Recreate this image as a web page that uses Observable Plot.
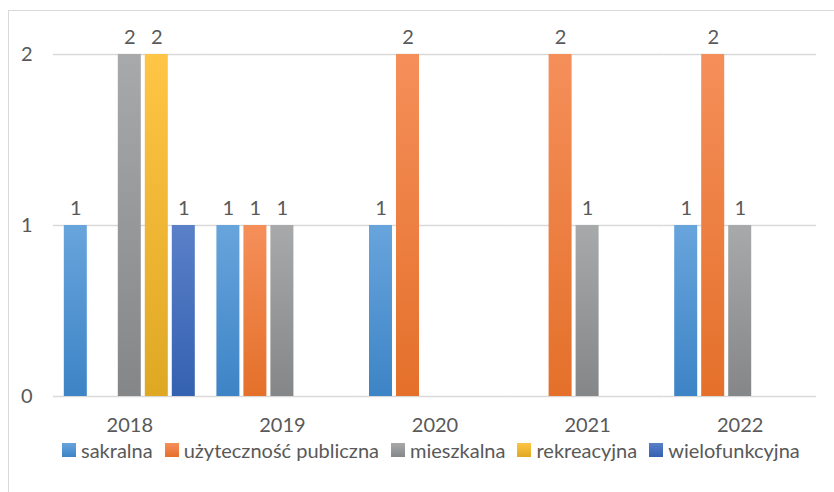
<!DOCTYPE html>
<html>
<head>
<meta charset="utf-8">
<script src="https://cdn.jsdelivr.net/npm/d3@7"></script>
<script src="https://cdn.jsdelivr.net/npm/@observablehq/plot@0.6"></script>
<style>
  html, body { margin: 0; padding: 0; background: #fff; }
  #wrap { position: relative; width: 834px; height: 492px; overflow: hidden; font-family: Lato, "Open Sans", sans-serif; }
  #frame { position: absolute; left: 8px; top: 10px; width: 840px; height: 500px; border: 1.5px solid #d9d9d9; box-sizing: border-box; pointer-events: none; }
  #chart { position: absolute; left: 0; top: 0; }
  #legend { position: absolute; left: 62px; top: 438px; display: flex; align-items: center; font-size: 20px; color: #595959; white-space: nowrap; }
  .item { display: flex; align-items: center; margin-right: 12px; }
  .sw { width: 14px; height: 14px; margin-right: 5px; }
</style>
</head>
<body>
<div id="wrap">
  <div id="frame"></div>
  <div id="chart"></div>
  <div id="legend"></div>
</div>
<script>
const years = ["2018", "2019", "2020", "2021", "2022"];
const series = ["sakralna", "użyteczność publiczna", "mieszkalna", "rekreacyjna", "wielofunkcyjna"];
const sakralna       = [1, 1, 1, 0, 1];
const uzytecznosc    = [0, 1, 2, 2, 2];
const mieszkalna     = [2, 1, 0, 1, 1];
const rekreacyjna    = [2, 0, 0, 0, 0];
const wielofunkcyjna = [1, 0, 0, 0, 0];
const yTicks = [0, 1, 2];
const gradTop    = ["#68a4dc", "#f58f5a", "#a8a9aa", "#ffc546", "#5a80c8"];
const gradBottom = ["#3d84c6", "#e4702a", "#858687", "#dfa823", "#3461b1"];

const valuesBySeries = [sakralna, uzytecznosc, mieszkalna, rekreacyjna, wielofunkcyjna];
const data = [];
series.forEach((s, i) => {
  years.forEach((y, j) => {
    const v = valuesBySeries[i][j];
    if (v > 0) data.push({year: y, series: s, idx: i, value: v});
  });
});

const FS = 20;
const svg = Plot.plot({
  width: 834,
  height: 436,
  marginLeft: 53,
  marginRight: 18,
  marginTop: 54,
  marginBottom: 40,
  style: {fontFamily: "Lato, 'Open Sans', sans-serif", fontSize: FS + "px", color: "#595959", background: "transparent"},
  fx: {domain: years, padding: 0, round: false, label: null},
  x: {domain: series, paddingInner: 0.148, paddingOuter: 0.4, round: false, axis: null},
  y: {domain: [0, 2], label: null},
  marks: [
    Plot.ruleY(yTicks, {stroke: "#d9d9d9", strokeWidth: 1.3}),
    ...series.map((s, i) => Plot.barY(data.filter(d => d.idx === i), {
      fx: "year", x: "series", y: "value", fill: `url(#grad${i})`,
      style: "filter:url(#shadow)"
    })),
    Plot.text(data, {fx: "year", x: "series", y: "value", text: d => String(d.value), dy: -17, fill: "#595959", fontSize: FS}),
    Plot.axisY(yTicks, {tickSize: 0, tickPadding: 21, tickFormat: d => String(d), label: null, fill: "#595959", fontSize: FS}),
    Plot.axisFx({anchor: "bottom", tickSize: 0, tickPadding: 21, label: null, fill: "#595959", fontSize: FS})
  ]
});

const defs = d3.select(svg).insert("defs", ":first-child");
gradTop.forEach((c, i) => {
  const g = defs.append("linearGradient").attr("id", `grad${i}`)
    .attr("x1", 0).attr("y1", 0).attr("x2", 0).attr("y2", 1);
  g.append("stop").attr("offset", "0%").attr("stop-color", c);
  g.append("stop").attr("offset", "100%").attr("stop-color", gradBottom[i]);
});
const f = defs.append("filter").attr("id", "shadow")
  .attr("x", "-30%").attr("y", "-5%").attr("width", "160%").attr("height", "110%");
f.append("feDropShadow").attr("dx", 1).attr("dy", 1).attr("stdDeviation", 2)
  .attr("flood-color", "#000").attr("flood-opacity", 0.25);

document.getElementById("chart").appendChild(svg);

const legend = document.getElementById("legend");
series.forEach((s, i) => {
  const item = document.createElement("div");
  item.className = "item";
  const sw = document.createElement("span");
  sw.className = "sw";
  sw.style.background = `linear-gradient(${gradTop[i]}, ${gradBottom[i]})`;
  const t = document.createElement("span");
  t.textContent = s;
  item.appendChild(sw);
  item.appendChild(t);
  legend.appendChild(item);
});
</script>
</body>
</html>
